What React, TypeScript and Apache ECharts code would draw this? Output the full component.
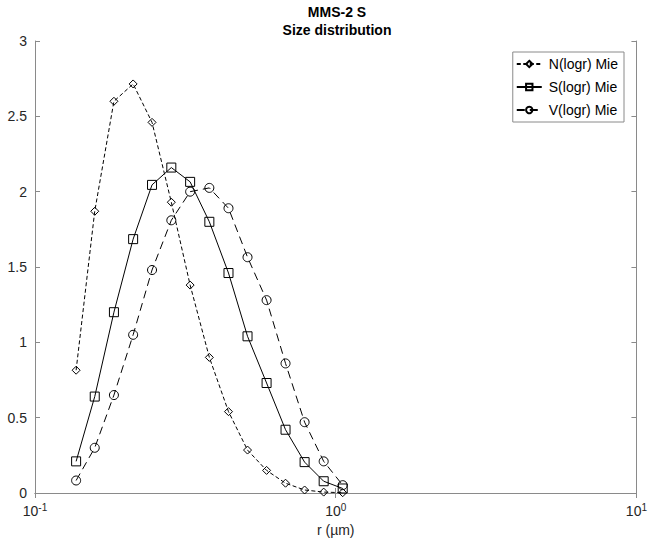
import React, { useEffect, useRef } from "react";
import * as echarts from "echarts";

const radii = [0.137, 0.158, 0.183, 0.212, 0.245, 0.284, 0.328, 0.38, 0.44, 0.509, 0.589, 0.681, 0.788, 0.912, 1.055];
const nValues = [0.815, 1.87, 2.6, 2.715, 2.46, 1.93, 1.38, 0.9, 0.54, 0.285, 0.15, 0.065, 0.02, 0.006, 0.002];
const sValues = [0.21, 0.64, 1.2, 1.685, 2.045, 2.16, 2.065, 1.8, 1.46, 1.04, 0.73, 0.42, 0.205, 0.078, 0.03];
const vValues = [0.083, 0.3, 0.65, 1.05, 1.48, 1.81, 2.0, 2.025, 1.89, 1.565, 1.28, 0.86, 0.47, 0.21, 0.052];
const seriesNames = ["N(logr) Mie", "S(logr) Mie", "V(logr) Mie"];
const titleLines = ["MMS-2 S", "Size distribution"];
const xName = "r (µm)";

const FONT = "'Liberation Sans', Arial, Helvetica, sans-serif";
const AXIS = "#8a8a8a";
const TXT = "#262626";

export default function App() {
  const ref = useRef<HTMLDivElement>(null);
  useEffect(() => {
    document.body.style.margin = "0";
    const chart = echarts.init(ref.current!, null, { renderer: "svg" });
    const pairs = (vals: number[]) => radii.map((r, i) => [r, vals[i]]);
    const tickCommon = {
      axisLine: { show: true, lineStyle: { color: AXIS, width: 1 } },
      axisTick: { show: true, inside: true, length: 5, lineStyle: { color: AXIS } },
      splitLine: { show: false },
      minorTick: { show: false },
    };
    const mk = (name: string, vals: number[], symbol: string, size: number, type: any) => ({
      name,
      type: "line",
      data: pairs(vals),
      symbol,
      symbolSize: size,
      showAllSymbol: true,
      lineStyle: { color: "#000", width: 1, type },
      itemStyle: { color: "rgba(0,0,0,0)", borderColor: "#000", borderWidth: 1 },
      emphasis: { disabled: true },
      z: 3,
    });
    chart.setOption({
      animation: false,
      textStyle: { fontFamily: FONT },
      title: {
        text: titleLines.join("\n"),
        left: 337,
        top: 3,
        padding: 0,
        textAlign: "center",
        textStyle: { fontFamily: FONT, fontSize: 14, fontWeight: "bold", color: "#000", lineHeight: 18 },
      },
      legend: {
        orient: "vertical",
        right: 26,
        top: 52,
        itemWidth: 25,
        itemHeight: 8,
        itemGap: 9,
        padding: [5, 6, 5, 3],
        borderColor: AXIS,
        borderWidth: 1,
        backgroundColor: "#fff",
        textStyle: { fontFamily: FONT, fontSize: 14, color: "#000", padding: [0, 0, 0, 2] },
        data: seriesNames,
      },
      grid: { left: 35, right: 13, top: 41, bottom: 48, containLabel: false },
      xAxis: [
        {
          type: "log",
          logBase: 10,
          min: 0.1,
          max: 10,
          position: "bottom",
          name: xName,
          nameLocation: "middle",
          nameGap: 30,
          nameTextStyle: { fontFamily: FONT, fontSize: 14, color: TXT },
          ...tickCommon,
          axisLabel: {
            margin: 9,
            color: TXT,
            formatter: (v: number) => "{b|10}{s|" + Math.round(Math.log10(v)) + "}",
            rich: {
              b: { fontFamily: FONT, fontSize: 14, color: TXT },
              s: { fontFamily: FONT, fontSize: 10, color: TXT, padding: [0, 0, 8, 0] },
            },
          },
        },
        {
          type: "log",
          logBase: 10,
          min: 0.1,
          max: 10,
          position: "top",
          ...tickCommon,
          axisLabel: { show: false },
        },
      ],
      yAxis: [
        {
          type: "value",
          min: 0,
          max: 3,
          interval: 0.5,
          position: "left",
          ...tickCommon,
          axisLabel: { color: TXT, fontSize: 14, fontFamily: FONT, margin: 8 },
        },
        {
          type: "value",
          min: 0,
          max: 3,
          interval: 0.5,
          position: "right",
          ...tickCommon,
          axisLabel: { show: false },
        },
      ],
      series: [
        mk(seriesNames[0], nValues, "diamond", 8, [4, 2.5]),
        mk(seriesNames[1], sValues, "rect", 9, "solid"),
        mk(seriesNames[2], vValues, "circle", 9, [8, 5]),
      ],
    });
    return () => chart.dispose();
  }, []);
  return <div ref={ref} style={{ width: 650, height: 542, position: "absolute", left: 0, top: 0 }} />;
}
